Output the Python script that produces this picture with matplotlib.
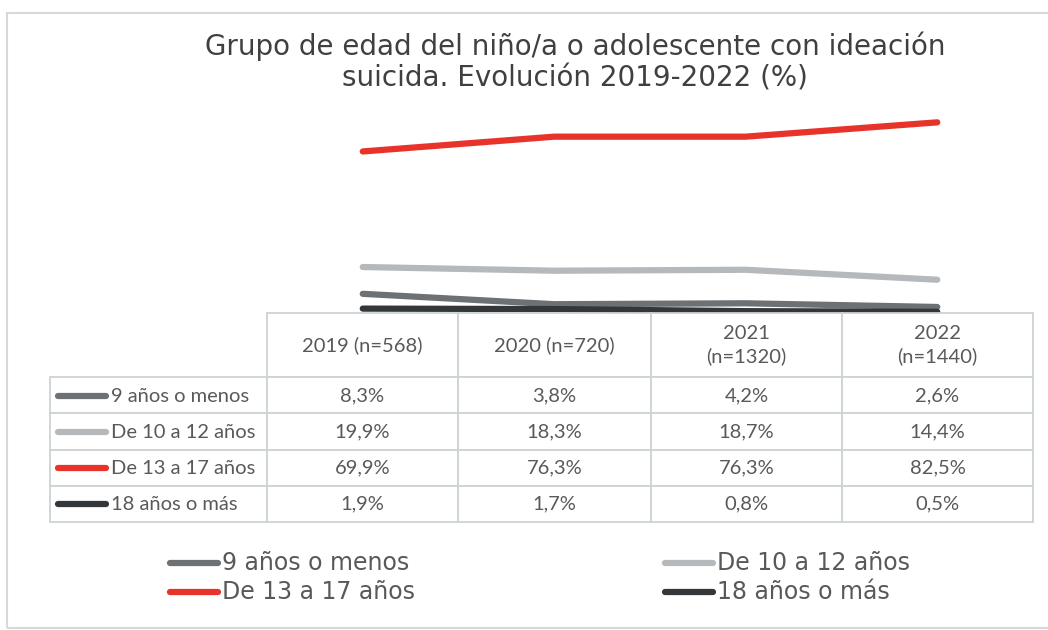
import matplotlib
matplotlib.use("Agg")
import matplotlib.pyplot as plt
from matplotlib.lines import Line2D
from matplotlib.patches import Rectangle

# ---- data ----
years = ["2019 (n=568)", "2020 (n=720)", "2021\n(n=1320)", "2022\n(n=1440)"]
groups = ["9 años o menos", "De 10 a 12 años", "De 13 a 17 años", "18 años o más"]
v_9_menos = [8.3, 3.8, 4.2, 2.6]
v_10_12 = [19.9, 18.3, 18.7, 14.4]
v_13_17 = [69.9, 76.3, 76.3, 82.5]
v_18_mas = [1.9, 1.7, 0.8, 0.5]
series = [v_9_menos, v_10_12, v_13_17, v_18_mas]
colors = ["#6d7174", "#b5b9bb", "#e8332b", "#343739"]
title = "Grupo de edad del niño/a o adolescente con ideación\nsuicida. Evolución 2019-2022 (%)"

W, H = 1048, 630
fig = plt.figure(figsize=(W / 100, H / 100), dpi=100)
fig.patch.set_facecolor("white")


def fx(px):
    return px / W


def fy(py):
    return 1 - py / H


# outer frame
fig.add_artist(Rectangle((fx(7), fy(628)), fx(1060) - fx(7), fy(13) - fy(628),
                         transform=fig.transFigure, fill=False,
                         edgecolor="#d6d9db", linewidth=1.5))

# title
fig.text(fx(575), fy(62), title, ha="center", va="center", fontsize=20,
         color="#404040", family="DejaVu Sans", linespacing=1.2)

# line chart axes: x from 267 to 1033 px, y: 0 at 313 px, 90 at 105 px
ax = fig.add_axes([fx(267), fy(313), fx(1033) - fx(267), fy(105) - fy(313)])
x = list(range(len(years)))
for vals, c in zip(series, colors):
    ax.plot(x, vals, color=c, linewidth=4.5, solid_capstyle="round",
            solid_joinstyle="round")
ax.set_xlim(-0.5, len(years) - 0.5)
ax.set_ylim(0, 90)
ax.axis("off")

# data table
tax = fig.add_axes([fx(50), fy(522), fx(1033) - fx(50), fy(313) - fy(522)])
tax.axis("off")
cell_text = [[""] + years]
for g, vals in zip(groups, series):
    cell_text.append([""] + [f"{v:.1f}%".replace(".", ",") for v in vals])
col_w = [217, 191, 193, 191, 191]
tot = sum(col_w)
tbl = tax.table(cellText=cell_text, colWidths=[w / tot for w in col_w],
                cellLoc="center", bbox=[0, 0, 1, 1])
tbl.auto_set_font_size(False)
for (r, c), cell in tbl.get_celld().items():
    cell.set_edgecolor("#cdd2d4")
    cell.set_linewidth(1.3)
    cell.set_height(64 if r == 0 else 36)
    t = cell.get_text()
    t.set_fontsize(14.5)
    t.set_color("#595959")
    t.set_family("Lato")
    t.set_linespacing(1.35)
    if r == 0 and c == 0:
        cell.visible_edges = ""

# row labels with line samples
row_y = [396, 432, 468, 504]
for g, c, yy in zip(groups, colors, row_y):
    fig.add_artist(Line2D([fx(58), fx(106)], [fy(yy), fy(yy)], color=c,
                          linewidth=4.5, solid_capstyle="round",
                          transform=fig.transFigure))
    fig.text(fx(111), fy(yy), g, ha="left", va="center", fontsize=14.5,
             color="#595959", family="Lato")

# legend
for i, (g, c) in enumerate(zip(groups, colors)):
    lx = 170 if i % 2 == 0 else 665
    ly = 563 if i < 2 else 592
    fig.add_artist(Line2D([fx(lx), fx(lx + 48)], [fy(ly), fy(ly)], color=c,
                          linewidth=4.5, solid_capstyle="round",
                          transform=fig.transFigure))
    fig.text(fx(lx + 52), fy(ly), g, ha="left", va="center", fontsize=17,
             color="#595959", family="DejaVu Sans")

fig.savefig("out.png", dpi=100, facecolor="white")
